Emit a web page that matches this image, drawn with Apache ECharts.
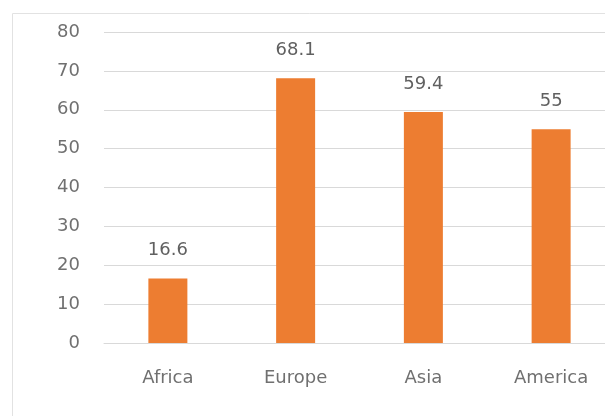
<!DOCTYPE html>
<html><head><meta charset="utf-8">
<script src="https://cdn.jsdelivr.net/npm/echarts@6/dist/echarts.min.js"></script>
<style>html,body{margin:0;padding:0;background:#fff}#c{width:605px;height:416px}</style>
</head><body><div id="c"></div>
<script>
const categories = ['Africa', 'Europe', 'Asia', 'America'];
const values = [16.6, 68.1, 59.4, 55];
const yMin = 0, yMax = 80, yStep = 10;

const chart = echarts.init(document.getElementById('c'), null, {renderer: 'canvas'});
const font = 'DejaVu Sans';
chart.setOption({
  backgroundColor: '#ffffff',
  animation: false,
  graphic: [{
    type: 'rect', shape: {x: 12.5, y: 13.5, width: 700, height: 500},
    style: {fill: 'none', stroke: '#e2e2e2', lineWidth: 1}, silent: true
  }],
  grid: {left: 104, top: 32, right: -10, bottom: 73, containLabel: false, outerBoundsMode: 'none'},
  xAxis: {
    type: 'category', data: categories,
    axisLine: {show: true, lineStyle: {color: '#d9d9d9', width: 1}},
    axisTick: {show: false},
    axisLabel: {color: '#707070', fontFamily: font, fontSize: 18, margin: 26}
  },
  yAxis: {
    type: 'value', min: yMin, max: yMax, interval: yStep,
    axisLine: {show: false}, axisTick: {show: false},
    splitLine: {lineStyle: {color: '#d9d9d9', width: 1}},
    axisLabel: {color: '#707070', fontFamily: font, fontSize: 18, margin: 24}
  },
  series: [{
    type: 'bar', data: values, barWidth: 39,
    itemStyle: {color: '#ED7D31'},
    label: {show: true, position: 'top', distance: 19, color: '#606060', fontFamily: font, fontSize: 18}
  }]
});
</script></body></html>
